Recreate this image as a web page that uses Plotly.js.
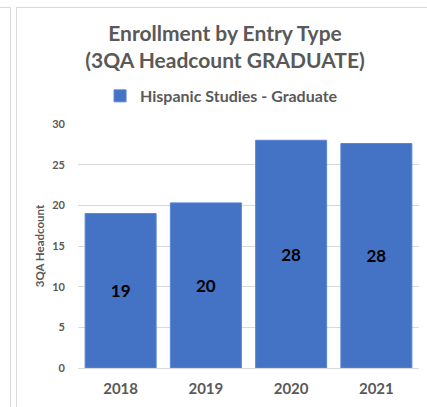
<!DOCTYPE html>
<html><head><meta charset="utf-8">
<script src="https://cdn.plot.ly/plotly-3.0.1.min.js"></script>
<style>
html,body{margin:0;padding:0;background:#fff;}
#wrap{position:relative;width:427px;height:407px;overflow:hidden;}
#chart{position:absolute;left:0;top:0;width:427px;height:407px;}
.ln{position:absolute;background:#d9d9d9;pointer-events:none;}
</style></head>
<body>
<div id="wrap">
<div id="chart"></div>
<div class="ln" style="left:0;top:7px;width:11px;height:1px;"></div>
<div class="ln" style="left:10px;top:7px;width:1px;height:400px;"></div>
<div class="ln" style="left:16px;top:7px;width:411px;height:1px;"></div>
<div class="ln" style="left:16px;top:7px;width:1px;height:400px;"></div>
</div>
<script>
const years = ['2018', '2019', '2020', '2021'];
const headcount = [19, 20.3, 28, 27.6];
const seriesName = 'Hispanic Studies - Graduate';
const yTicks = [0, 5, 10, 15, 20, 25, 30];

const gray = '#595959';
const FONT = 'Lato, Carlito, Calibri, sans-serif';

const trace = {
  type: 'bar',
  x: years,
  y: headcount,
  name: seriesName,
  marker: {color: '#4472c4', line: {color: '#5b86d6', width: 1}},
  text: headcount.map(v => String(Math.round(v))),
  textposition: 'inside',
  insidetextanchor: 'middle',
  textangle: 0,
  textfont: {family: FONT, size: 17, color: '#000000', weight: 700},
  hoverinfo: 'none',
  showlegend: true
};

const layout = {
  width: 427, height: 407,
  margin: {l: 78, r: 8, t: 124, b: 39},
  paper_bgcolor: 'rgba(0,0,0,0)',
  plot_bgcolor: 'rgba(0,0,0,0)',
  font: {family: FONT, color: gray},
  title: {
    text: 'Enrollment by Entry Type<br>(3QA Headcount GRADUATE)',
    font: {family: FONT, size: 21, color: gray, weight: 700},
    x: 0.527, xanchor: 'center',
    y: 0.9, yanchor: 'middle'
  },
  showlegend: true,
  legend: {
    orientation: 'h',
    x: 0.421, xanchor: 'center',
    y: 1.115, yanchor: 'middle',
    font: {family: FONT, size: 16, color: gray, weight: 700},
    itemwidth: 30
  },
  bargap: 0.167,
  xaxis: {
    type: 'category',
    showgrid: false, zeroline: false, showline: false,
    ticks: '',
    tickfont: {family: FONT, size: 15, color: gray, weight: 700},
    ticklabelstandoff: 10
  },
  yaxis: {
    range: [0, 30],
    tickvals: yTicks,
    showgrid: true, gridcolor: '#d9d9d9', gridwidth: 1,
    zeroline: true, zerolinecolor: '#d9d9d9', zerolinewidth: 1,
    showline: false, ticks: '',
    tickfont: {family: FONT, size: 11, color: gray, weight: 700},
    ticklabelstandoff: 12,
    title: {text: '3QA Headcount', font: {family: FONT, size: 11.5, color: gray, weight: 700}, standoff: 5}
  }
};

Plotly.newPlot('chart', [trace], layout, {displayModeBar: false, staticPlot: true});
</script>
</body></html>
